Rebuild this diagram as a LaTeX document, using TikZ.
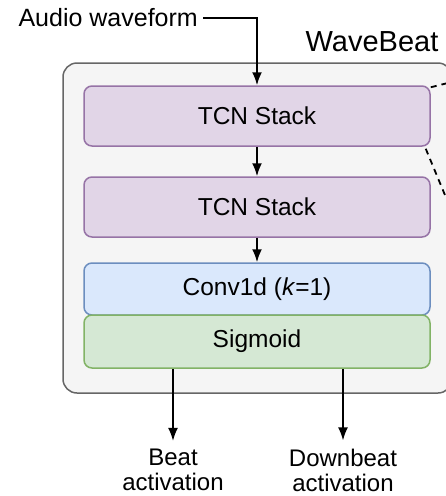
\documentclass[tikz,border=0pt]{standalone}
\usepackage{fontspec}
\setmainfont{Liberation Sans}
\usepackage{tikz}
\usetikzlibrary{calc}
\usetikzlibrary{arrows.meta}

\definecolor{outerfill}{HTML}{F5F5F5}
\definecolor{outerline}{HTML}{666666}
\definecolor{tcnfill}{HTML}{E1D5E7}
\definecolor{tcnline}{HTML}{9673A6}
\definecolor{convfill}{HTML}{DAE8FC}
\definecolor{convline}{HTML}{6C8EBF}
\definecolor{sigfill}{HTML}{D5E8D4}
\definecolor{sigline}{HTML}{82B366}

\tikzset{
  layer/.style={rounded corners=8pt, line width=1.5pt, minimum width=346pt,
    font=\fontsize{24.5}{28}\selectfont},
  flow/.style={line width=1.8pt, -{Latex[length=13pt,width=10pt]}},
}

\begin{document}
\begin{tikzpicture}[x=1pt,y=-1pt]
    \useasboundingbox (0,0) rectangle (446,496);
    \draw[rounded corners=14pt, fill=outerfill, draw=outerline, line width=1.5pt] (63,63) rectangle (452,393);
    \node[font=\fontsize{29}{34}\selectfont] (title) at (372,42) {WaveBeat};

    \node[layer, fill=tcnfill, draw=tcnline, minimum height=60pt] (tcnA) at (257,116) {TCN Stack};
    \node[layer, fill=tcnfill, draw=tcnline, minimum height=60pt] (tcnB) at (257,207) {TCN Stack};
    \node[layer, fill=convfill, draw=convline, minimum height=52pt] (conv) at (257,289) {Conv1d (\textit{k}=1)};
    \node[layer, fill=sigfill, draw=sigline, minimum height=53pt] (sig) at (257,341.5) {Sigmoid};

    \node[anchor=east, inner sep=0pt, font=\fontsize{25}{30}\selectfont] (audio) at (198,18) {Audio waveform};
    \draw[flow, rounded corners=0pt] ($(audio.east)+(5,0)$) -| (tcnA.north);
    \draw[flow] (tcnA) -- (tcnB);
    \draw[flow] (tcnB) -- (conv);

    \node[align=center, font=\fontsize{24}{25}\selectfont, inner sep=2pt] (beat) at (173,470) {Beat\\activation};
    \node[align=center, font=\fontsize{24}{25}\selectfont, inner sep=2pt] (down) at (343,470) {Downbeat\\activation};
    \draw[flow] (sig.south -| beat.north) -- ($(beat.north)+(0,-6)$);
    \draw[flow] (sig.south -| down.north) -- ($(down.north)+(0,-6)$);

    % lines out to the zoomed view
    \coordinate (zoomtop) at (452,82);
    \coordinate (zoombot) at (452,212);
    \draw[dashed, line width=1.8pt, dash pattern=on 6pt off 5pt] ($(tcnA.north east)+(0,2)$) -- (zoomtop);
    \draw[dashed, line width=1.8pt, dash pattern=on 6pt off 5pt] ($(tcnA.south east)+(-5,2)$) -- (zoombot);
\end{tikzpicture}
\end{document}
